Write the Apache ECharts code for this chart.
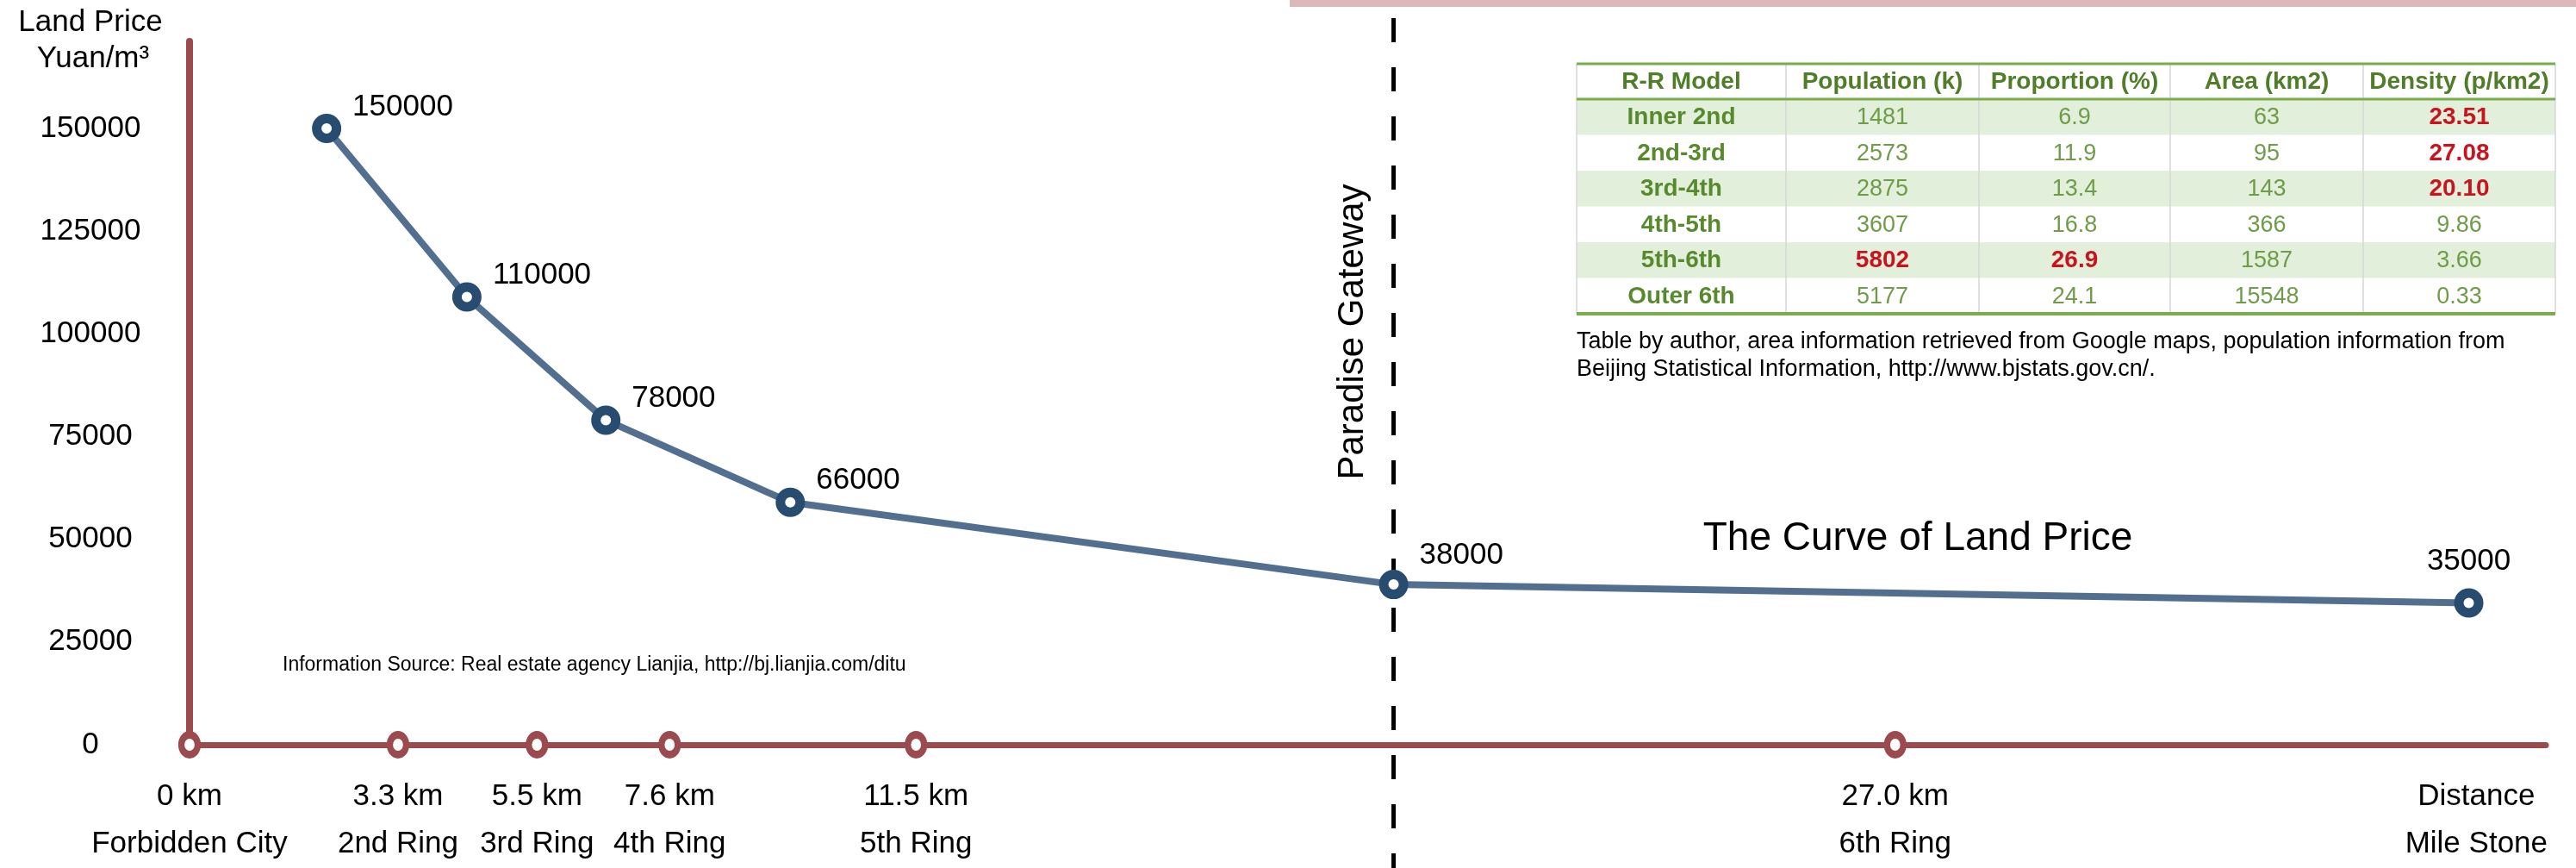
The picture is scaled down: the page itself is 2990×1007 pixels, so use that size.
<!DOCTYPE html>
<html>
<head>
<meta charset="utf-8">
<title>The Curve of Land Price</title>
<script src="https://cdn.jsdelivr.net/npm/echarts@6/dist/echarts.min.js"></script>
<style>
html, body { margin: 0; padding: 0; background: #fff; }
#main { width: 2990px; height: 1007px; }
</style>
</head>
<body>
<div id="main"></div>
<script>
// land price curve: distance from Forbidden City (km) -> price (yuan/m3)
var priceKm = [2.17, 4.39, 6.59, 9.51, 19.06, 36.08];
var priceValues = [150000, 109000, 79000, 59000, 39000, 34500];
var priceLabels = ['150000', '110000', '78000', '66000', '38000', '35000'];

// ring roads on the distance axis
var ringKm = [0, 3.3, 5.5, 7.6, 11.5, 27.0];
var ringDist = ['0 km', '3.3 km', '5.5 km', '7.6 km', '11.5 km', '27.0 km'];
var ringNames = ['Forbidden City', '2nd Ring', '3rd Ring', '4th Ring', '5th Ring', '6th Ring'];
var mileStoneKm = 36.2;

var yTicks = [0, 25000, 50000, 75000, 100000, 125000, 150000];
var gatewayKm = 19.06;

// R-R model table
var tableHeader = ['R-R Model', 'Population (k)', 'Proportion (%)', 'Area (km2)', 'Density (p/km2)'];
var zones = ['Inner 2nd', '2nd-3rd', '3rd-4th', '4th-5th', '5th-6th', 'Outer 6th'];
var population = ['1481', '2573', '2875', '3607', '5802', '5177'];
var proportion = ['6.9', '11.9', '13.4', '16.8', '26.9', '24.1'];
var area = ['63', '95', '143', '366', '1587', '15548'];
var density = ['23.51', '27.08', '20.10', '9.86', '3.66', '0.33'];
var redCells = ['0-4', '1-4', '2-4', '4-1', '4-2'];

var FONT = '"Liberation Sans", Arial, sans-serif';
var axisRed = '#9b4a4d';

var chart = echarts.init(document.getElementById('main'));

var tickKm = ringKm.concat([mileStoneKm]);
var tickTop = ringDist.concat(['Distance']);
var tickBottom = ringNames.concat(['Mile Stone']);

var option = {
    animation: false,
    backgroundColor: '#fff',
    grid: { left: 220, right: 35, top: 48, bottom: 139 },
    xAxis: {
        type: 'value',
        min: 0,
        max: 37.3,
        splitLine: { show: false },
        axisTick: { show: false },
        axisLine: { show: true, lineStyle: { color: axisRed, width: 7 } },
        axisLabel: {
            customValues: tickKm,
            margin: 33,
            fontSize: 35,
            lineHeight: 55,
            fontFamily: FONT,
            color: '#000',
            formatter: function (v) {
                var i = tickKm.indexOf(v);
                if (i < 0) return '';
                return tickTop[i] + '\n' + tickBottom[i];
            }
        }
    },
    yAxis: {
        type: 'value',
        min: 0,
        max: 171200,
        splitLine: { show: false },
        axisTick: { show: false },
        axisLine: { show: true, lineStyle: { color: axisRed, width: 8 } },
        axisLabel: {
            customValues: yTicks,
            align: 'center',
            margin: 115,
            fontSize: 35,
            fontFamily: FONT,
            color: '#000',
            formatter: function (v) { return String(v); }
        }
    },
    series: [
        {
            name: 'rings',
            type: 'scatter',
            symbol: 'circle',
            symbolSize: [19, 23],
            z: 3,
            itemStyle: { color: '#fff', borderColor: axisRed, borderWidth: 8, opacity: 1 },
            data: ringKm.map(function (k) { return [k, 0]; })
        },
        {
            name: 'Land Price',
            type: 'line',
            z: 4,
            symbol: 'circle',
            symbolSize: 23,
            showAllSymbol: true,
            lineStyle: { color: '#536f90', width: 8 },
            itemStyle: { color: '#fff', borderColor: '#284b70', borderWidth: 11 },
            label: {
                show: true,
                position: 'right',
                distance: 13,
                offset: [0, -25],
                fontSize: 35,
                fontFamily: FONT,
                color: '#000',
                formatter: function (p) { return priceLabels[p.dataIndex]; }
            },
            data: priceKm.map(function (k, i) {
                var d = { value: [k, priceValues[i]] };
                if (i === 4) d.label = { offset: [0, -34], distance: 13 };
                if (i === priceKm.length - 1) d.label = { position: 'top', offset: [0, 0], distance: 14 };
                return d;
            })
        }
    ]
};

chart.setOption(option);

function buildTable() {
    var els = [];
    var colX = [1830, 2073, 2297, 2519, 2743, 2966];
    var top = 74, headH = 41, rowH = 41.5;
    var bottom = top + headH + zones.length * rowH;
    var cols = [zones, population, proportion, area, density];

    zones.forEach(function (z, r) {
        if (r % 2 === 0) {
            els.push({
                type: 'rect', silent: true,
                shape: { x: colX[0], y: top + headH + r * rowH, width: colX[5] - colX[0], height: rowH },
                style: { fill: '#e2efda' }
            });
        }
    });
    for (var c = 0; c < colX.length; c++) {
        els.push({
            type: 'line', silent: true,
            shape: { x1: colX[c], y1: top, x2: colX[c], y2: bottom },
            style: { stroke: '#d6d6d6', lineWidth: 1.5 }
        });
    }
    [[top, 3], [top + headH, 3], [bottom, 4]].forEach(function (h) {
        els.push({
            type: 'line', silent: true,
            shape: { x1: colX[0], y1: h[0], x2: colX[5], y2: h[0] },
            style: { stroke: '#77ad4b', lineWidth: h[1] }
        });
    });
    tableHeader.forEach(function (t, c) {
        els.push({
            type: 'text', silent: true,
            style: {
                text: t, x: (colX[c] + colX[c + 1]) / 2, y: top + headH / 2 + 1,
                align: 'center', verticalAlign: 'middle', textAlign: 'center', textVerticalAlign: 'middle',
                font: 'bold 28px ' + FONT, fill: '#4f7d28'
            }
        });
    });
    zones.forEach(function (z, r) {
        cols.forEach(function (col, c) {
            var red = redCells.indexOf(r + '-' + c) >= 0;
            var bold = red || c === 0;
            els.push({
                type: 'text', silent: true,
                style: {
                    text: col[r], x: (colX[c] + colX[c + 1]) / 2, y: top + headH + r * rowH + rowH / 2 + 1,
                    align: 'center', verticalAlign: 'middle', textAlign: 'center', textVerticalAlign: 'middle',
                    font: (bold ? 'bold 28px ' : '27px ') + FONT,
                    fill: red ? '#c8141e' : (c === 0 ? '#578a2c' : '#6f9c48')
                }
            });
        });
    });
    return els;
}

var gx = chart.convertToPixel({ xAxisIndex: 0 }, gatewayKm);

var graphics = [
    { type: 'rect', silent: true, shape: { x: 1497, y: 0, width: 1493, height: 8 }, style: { fill: '#dbb8ba' } },
    {
        type: 'line', silent: true, z: 1,
        shape: { x1: gx, y1: 21, x2: gx, y2: 1007 },
        style: { stroke: '#000', lineWidth: 5, lineDash: [28, 29] }
    },
    {
        type: 'text', silent: true, x: 1570, y: 385, rotation: Math.PI / 2,
        style: {
            text: 'Paradise Gateway', x: 0, y: 0,
            align: 'center', verticalAlign: 'middle', textAlign: 'center', textVerticalAlign: 'middle',
            font: '42px ' + FONT, fill: '#000'
        }
    },
    {
        type: 'text', silent: true,
        style: {
            text: 'Land Price', x: 105, y: 26,
            align: 'center', verticalAlign: 'middle', textAlign: 'center', textVerticalAlign: 'middle',
            font: '35px ' + FONT, fill: '#000'
        }
    },
    {
        type: 'text', silent: true,
        style: {
            text: 'Yuan/m\u00b3', x: 108, y: 68,
            align: 'center', verticalAlign: 'middle', textAlign: 'center', textVerticalAlign: 'middle',
            font: '35px ' + FONT, fill: '#000'
        }
    },
    {
        type: 'text', silent: true,
        style: {
            text: 'The Curve of Land Price', x: 2226, y: 625,
            align: 'center', verticalAlign: 'middle', textAlign: 'center', textVerticalAlign: 'middle',
            font: '46px ' + FONT, fill: '#000'
        }
    },
    {
        type: 'text', silent: true,
        style: {
            text: 'Information Source: Real estate agency Lianjia, http://bj.lianjia.com/ditu', x: 328, y: 772,
            align: 'left', verticalAlign: 'middle', textAlign: 'left', textVerticalAlign: 'middle',
            font: '23px ' + FONT, fill: '#000'
        }
    },
    {
        type: 'text', silent: true,
        style: {
            text: 'Table by author, area information retrieved from Google maps, population information from\nBeijing Statistical Information, http://www.bjstats.gov.cn/.',
            x: 1830, y: 381, lineHeight: 32,
            align: 'left', verticalAlign: 'top', textAlign: 'left', textVerticalAlign: 'top',
            font: '27px ' + FONT, fill: '#000'
        }
    }
].concat(buildTable());

chart.setOption({ graphic: graphics });
</script>
</body>
</html>
